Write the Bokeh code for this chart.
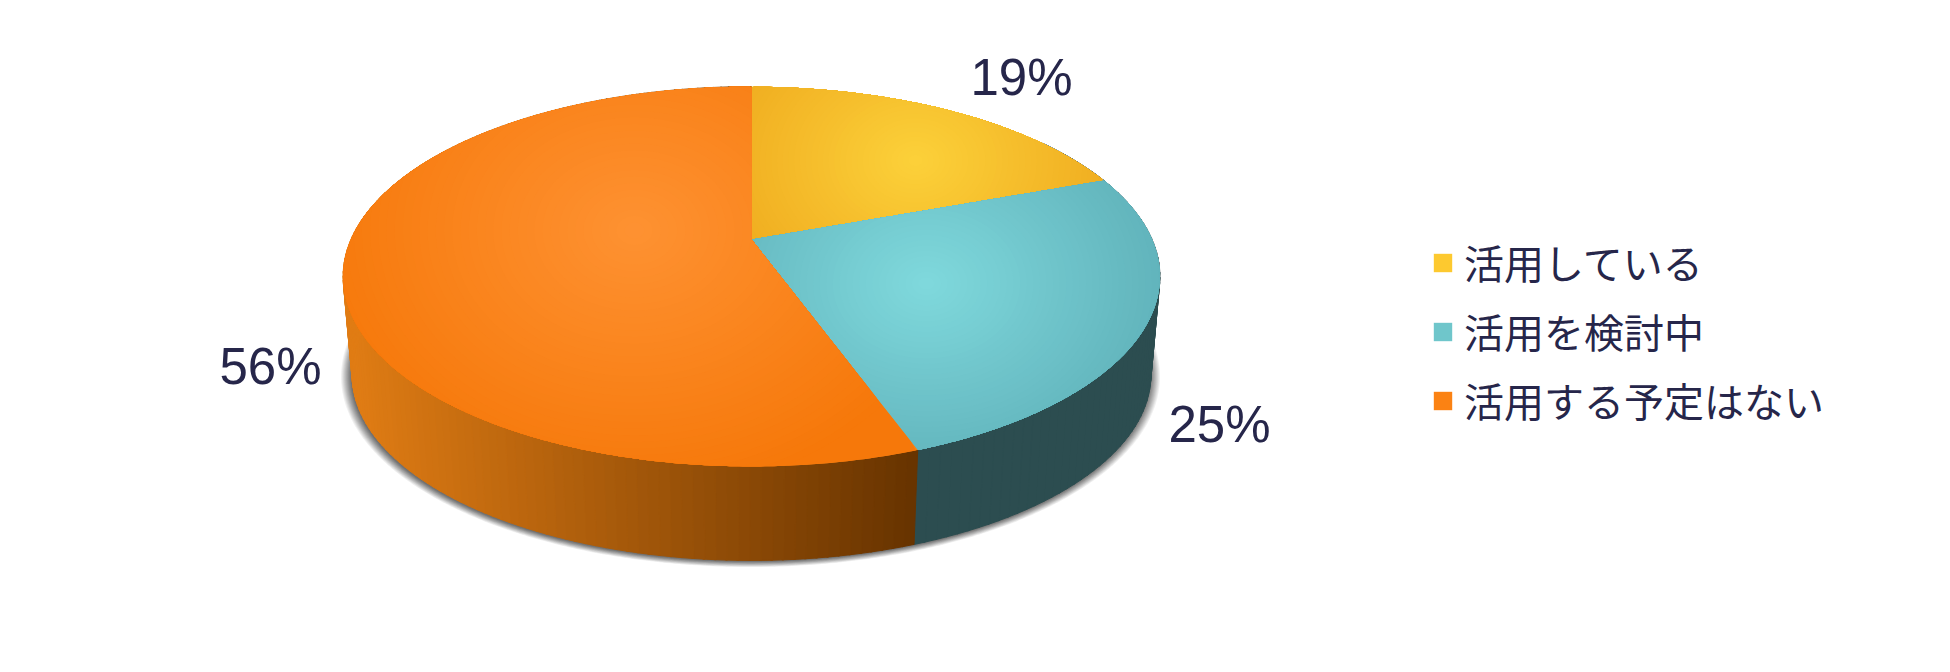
import numpy as np
from bokeh.plotting import figure
from bokeh.models import Range1d, Legend, LegendItem
from bokeh.core.properties import value
from bokeh.embed import file_html
from bokeh.resources import INLINE

categories = ["活用している", "活用を検討中", "活用する予定はない"]
shares = [19.4, 25.1, 55.5]
pct_labels = ["19%", "25%", "56%"]

CX, APEX_Y, A, B, P = 751.0, 239.0, 182.7, 400.6, 0.195
WALL_SHIFT, WALL_SCALE = 99.0, 0.978

# light centre, dark rim of each slice's top-face gradient
top_inner = [(252, 209, 58), (128, 217, 221), (254, 146, 50)]
top_outer = [(238, 168, 28), (94, 176, 184), (246, 120, 10)]
top_mid = ["#fdc92f", "#6fc6cb", "#fb8213"]
focus = [(915, 160), (926, 283), (634, 230)]
radius = [230, 265, 330]
wall_flat = "#2c4d50"
wall_light, wall_dark = (224, 124, 20), (104, 52, 0)
label_xy = [(1021, 77), (1219, 424), (270, 366)]
ink = "#26264a"


def project(theta):
    u, v = np.sin(theta), -np.cos(theta)
    w = 1 - P * v
    return CX + B * u / w, APEX_Y + A * v / w


def lower(x, y):
    return CX + (x - CX) * WALL_SCALE, APEX_Y + WALL_SHIFT + (y - APEX_Y) * WALL_SCALE


def mix(a, b, t):
    return "#%02x%02x%02x" % tuple(int(round(a[i] + (b[i] - a[i]) * t)) for i in range(3))


def ray_dist(poly_x, poly_y, fx, fy, phi):
    dx, dy = np.cos(phi)[:, None], np.sin(phi)[:, None]
    ax, ay = poly_x - fx, poly_y - fy
    bx, by = np.roll(ax, -1), np.roll(ay, -1)
    ex, ey = bx - ax, by - ay
    den = dx * ey - dy * ex
    den[np.abs(den) < 1e-9] = 1e-9
    t = (ax * ey - ay * ex) / den
    s = (ax * dy - ay * dx) / den
    t[(t <= 0) | (s < 0) | (s > 1)] = np.inf
    return t.min(axis=1)


p = figure(width=1934, height=656, output_backend="svg", toolbar_location=None,
           x_range=Range1d(0, 1934), y_range=Range1d(656, 0),
           min_border=0, outline_line_color=None, background_fill_color="white")
p.axis.visible = False
p.grid.visible = False

th = np.linspace(0, 2 * np.pi, 720)
ex, ey = project(th)
lx, ly = lower(ex, ey)

# soft drop shadow under the disc
sh_x, sh_y, sh_c = [], [], []
for g in np.linspace(11, 0, 12):
    sc = (ex.max() - ex.min()) * WALL_SCALE / 2
    sh_x.append(CX + (lx - CX) * (sc + g) / sc - 1)
    sh_y.append(APEX_Y + WALL_SHIFT + (ly - APEX_Y - WALL_SHIFT) * (sc + g) / sc + 1)
    sh_c.append(mix((112, 112, 112), (255, 255, 255), (g / 11) ** 1.1))
p.patches(sh_x, sh_y, fill_color=sh_c, line_color=None)

# side wall, drawn from the values' angles
edges = np.cumsum([0] + shares) / sum(shares) * 2 * np.pi
wall_x, wall_y, wall_c = [], [], []
xl, xr = lower(ex.min(), 0)[0], project(edges[2])[0]
for i in range(len(shares)):
    a0, a1 = max(edges[i], np.pi * 0.30), edges[i + 1]
    if a1 <= a0:
        continue
    n = 150 if i == 2 else 60
    ang = np.linspace(a0, a1, n + 1)
    for j in range(n):
        t0, t1 = ang[j], min(ang[j + 1] + 0.004, a1)
        tx, ty = project(np.array([t0, t1]))
        bx, by = lower(tx, ty)
        wall_x.append([tx[0], tx[1], bx[1], bx[0]])
        wall_y.append([ty[0], ty[1], by[1], by[0]])
        if i == 2:
            t = np.clip((xr - tx[0]) / (xr - xl), 0, 1)
            wall_c.append(mix(wall_light, wall_dark, 1 - t))
        else:
            wall_c.append(wall_flat)
p.patches(wall_x, wall_y, fill_color=wall_c, line_color=wall_c, line_width=1)

# top face: each slice has its own radial highlight
phi = np.linspace(0, 2 * np.pi, 540, endpoint=False)
legend_items = []
for i in range(len(shares)):
    arc = np.linspace(edges[i], edges[i + 1], 300)
    ax, ay = project(arc)
    px = np.concatenate([[CX], ax])
    py = np.concatenate([[APEX_Y], ay])
    base = p.patch(px, py, fill_color=top_mid[i], line_color=None)
    legend_items.append(LegendItem(label=categories[i], renderers=[base]))
    fx, fy = focus[i]
    dist = ray_dist(px, py, fx, fy, phi)
    cs, sn = np.cos(phi), np.sin(phi)
    stretch = 1 / np.sqrt(cs ** 2 + (1.25 * sn) ** 2)
    xs, ys, cols = [fx + dist * cs], [fy + dist * sn], [mix(top_inner[i], top_outer[i], 1)]
    for t in np.linspace(1.0, 0.03, 40):
        d = np.minimum(dist, radius[i] * t * stretch)
        xs.append(fx + d * cs)
        ys.append(fy + d * sn)
        cols.append(mix(top_inner[i], top_outer[i], t))
    p.patches(xs, ys, fill_color=cols, line_color=None)

p.text([q[0] for q in label_xy], [q[1] for q in label_xy], text=pct_labels,
       text_font=value("Liberation Sans"), text_font_size="51px", text_color=ink,
       text_align="center", text_baseline="alphabetic")

legend = Legend(items=legend_items, location=(1431, 227), orientation="vertical",
                border_line_color=None, background_fill_alpha=0, margin=0, padding=0,
                glyph_width=23, glyph_height=23, label_standoff=10, spacing=11,
                label_text_font="Noto Sans CJK JP", label_text_font_size="40px",
                label_text_color=ink)
p.add_layout(legend, "center")

open("out.html", "w").write(file_html(p, INLINE))
